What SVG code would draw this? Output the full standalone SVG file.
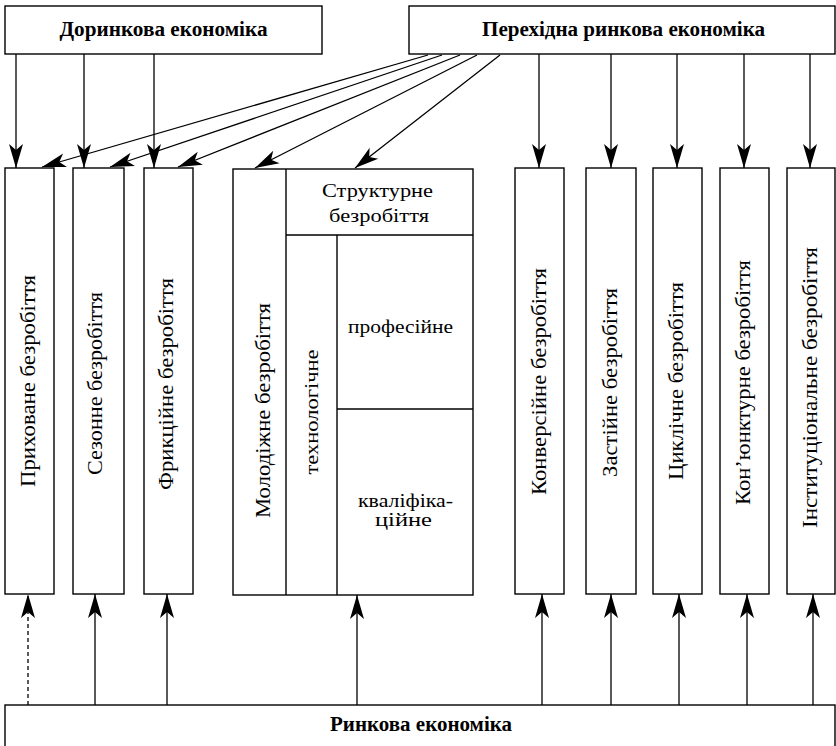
<svg xmlns="http://www.w3.org/2000/svg" width="836" height="746" viewBox="0 0 836 746">
<defs>
<marker id="ah" markerUnits="userSpaceOnUse" markerWidth="30" markerHeight="20" viewBox="-26 -10 30 20" refX="0" refY="0" orient="auto">
<path d="M0,0 L-24,-7 L-18,0 L-24,7 Z" fill="#000"/>
</marker>
</defs>
<style>
rect{fill:#fff;stroke:#000;stroke-width:1.4}
.l{stroke:#000;stroke-width:1.4;fill:none}
.c{stroke:#000;stroke-width:1.3;fill:none;marker-end:url(#ah)}
.d{stroke-dasharray:4,3}
text{font-family:'Liberation Serif','DejaVu Serif',serif;fill:#000}
.h{font-weight:bold;font-size:20px;text-anchor:middle}
.v{font-size:21px;text-anchor:middle}
.s{font-size:19.5px;text-anchor:middle}
</style>
<g id="top-left"><rect x="5" y="6" width="317" height="48"/><text class="h" x="163.5" y="36" textLength="208" lengthAdjust="spacingAndGlyphs">Доринкова економіка</text></g>
<g id="top-right"><rect x="409" y="6" width="426" height="48"/><text class="h" x="623.5" y="36" textLength="283" lengthAdjust="spacingAndGlyphs">Перехідна ринкова економіка</text></g>
<g id="bottom"><rect x="5" y="705" width="830" height="60"/><text class="h" x="421" y="731" textLength="182" lengthAdjust="spacingAndGlyphs">Ринкова економіка</text></g>

<g id="n1"><rect x="5" y="168" width="49" height="426"/><text class="v" transform="translate(35,381) rotate(-90)" textLength="212" lengthAdjust="spacingAndGlyphs">Приховане безробіття</text></g>
<g id="n2"><rect x="73" y="168" width="51" height="426"/><text class="v" transform="translate(102,383.5) rotate(-90)" textLength="183" lengthAdjust="spacingAndGlyphs">Сезонне безробіття</text></g>
<g id="n3"><rect x="144" y="168" width="49" height="426"/><text class="v" transform="translate(173,384) rotate(-90)" textLength="212" lengthAdjust="spacingAndGlyphs">Фрикційне безробіття</text></g>

<g id="n4"><rect x="233" y="169" width="240" height="426"/>
<line class="l" x1="286" y1="169" x2="286" y2="595"/>
<line class="l" x1="286" y1="235" x2="473" y2="235"/>
<line class="l" x1="337" y1="235" x2="337" y2="595"/>
<line class="l" x1="337" y1="409" x2="473" y2="409"/>
<text class="v" transform="translate(270,410.5) rotate(-90)" textLength="215" lengthAdjust="spacingAndGlyphs">Молодіжне безробіття</text>
<text class="s" transform="translate(318,412) rotate(-90)" textLength="125" lengthAdjust="spacingAndGlyphs">технологічне</text>
<text class="s" x="377.5" y="197" textLength="111" lengthAdjust="spacingAndGlyphs">Структурне</text>
<text class="s" x="379" y="222" textLength="100" lengthAdjust="spacingAndGlyphs">безробіття</text>
<text class="s" x="400.5" y="333" textLength="105" lengthAdjust="spacingAndGlyphs">професійне</text>
<text class="s" x="405.5" y="507" textLength="95" lengthAdjust="spacingAndGlyphs">кваліфіка-</text>
<text class="s" x="403.5" y="526" textLength="57" lengthAdjust="spacingAndGlyphs">ційне</text>
</g>

<g id="n5"><rect x="515" y="168" width="49" height="426"/><text class="v" transform="translate(546,381.5) rotate(-90)" textLength="227" lengthAdjust="spacingAndGlyphs">Конверсійне безробіття</text></g>
<g id="n6"><rect x="586" y="168" width="50" height="426"/><text class="v" transform="translate(617,382.5) rotate(-90)" textLength="189" lengthAdjust="spacingAndGlyphs">Застійне безробіття</text></g>
<g id="n7"><rect x="653" y="168" width="49" height="426"/><text class="v" transform="translate(683,381) rotate(-90)" textLength="198" lengthAdjust="spacingAndGlyphs">Циклічне безробіття</text></g>
<g id="n8"><rect x="720" y="168" width="49" height="426"/><text class="v" transform="translate(750,382.5) rotate(-90)" textLength="245" lengthAdjust="spacingAndGlyphs">Кон’юнктурне безробіття</text></g>
<g id="n9"><rect x="787" y="168" width="48" height="426"/><text class="v" transform="translate(817,387.5) rotate(-90)" textLength="281" lengthAdjust="spacingAndGlyphs">Інституціональне безробіття</text></g>

<g id="connectors">
<line class="c" x1="16" y1="54" x2="16" y2="168"/>
<line class="c" x1="84" y1="54" x2="84" y2="168"/>
<line class="c" x1="154" y1="54" x2="154" y2="168"/>
<line class="c" x1="428" y1="55" x2="42" y2="167"/>
<line class="c" x1="442" y1="55" x2="110" y2="167"/>
<line class="c" x1="460" y1="55" x2="178" y2="167"/>
<line class="c" x1="477" y1="55" x2="255" y2="168"/>
<line class="c" x1="500" y1="55" x2="355" y2="168"/>
<line class="c" x1="539" y1="54" x2="539" y2="168"/>
<line class="c" x1="611" y1="54" x2="611" y2="168"/>
<line class="c" x1="677" y1="54" x2="677" y2="168"/>
<line class="c" x1="744" y1="54" x2="744" y2="168"/>
<line class="c" x1="810" y1="54" x2="810" y2="168"/>
<line class="c d" x1="28" y1="705" x2="28" y2="594"/>
<line class="c" x1="95" y1="705" x2="95" y2="594"/>
<line class="c" x1="167" y1="705" x2="167" y2="594"/>
<line class="c" x1="357" y1="705" x2="357" y2="595"/>
<line class="c" x1="542" y1="705" x2="542" y2="594"/>
<line class="c" x1="611" y1="705" x2="611" y2="594"/>
<line class="c" x1="679" y1="705" x2="679" y2="594"/>
<line class="c" x1="747" y1="705" x2="747" y2="594"/>
<line class="c" x1="813" y1="705" x2="813" y2="594"/>
</g>
</svg>
